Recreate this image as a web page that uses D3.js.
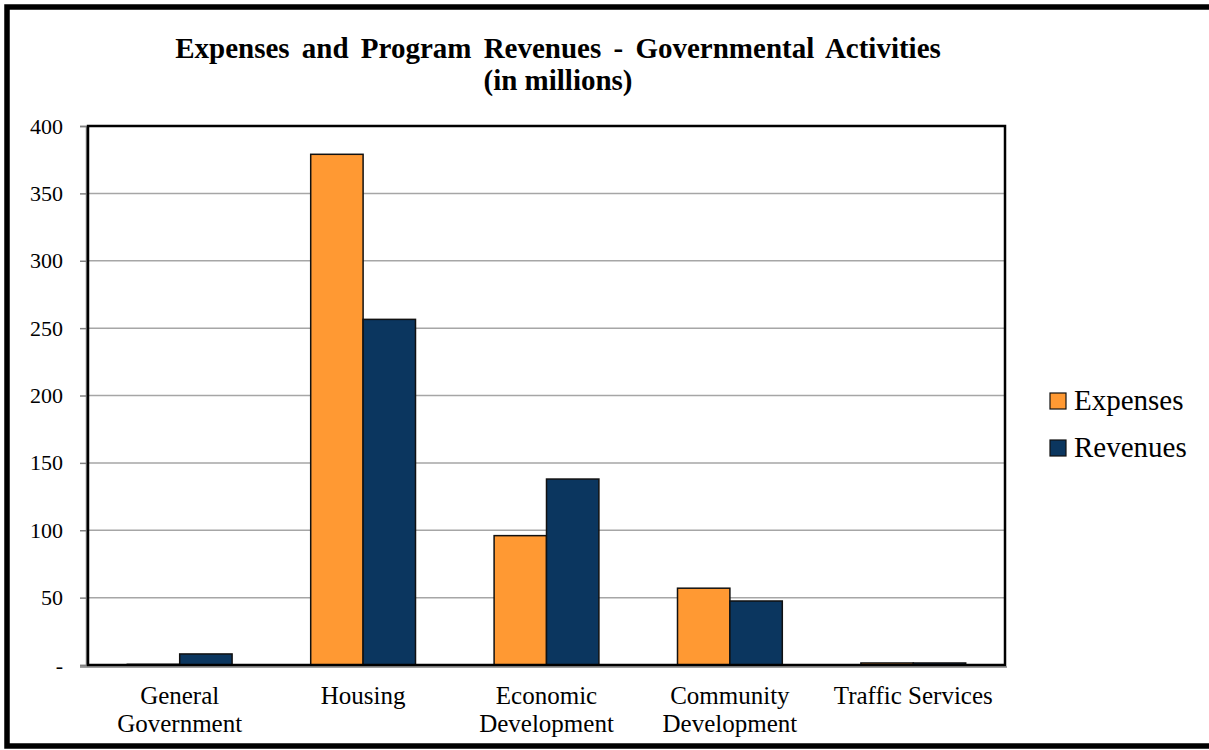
<!DOCTYPE html>
<html>
<head>
<meta charset="utf-8">
<script src="https://cdn.jsdelivr.net/npm/d3@7"></script>
<style>
  body { margin: 0; background: #fff; }
  svg text { font-family: "Liberation Serif", "Times New Roman", serif !important; }
</style>
</head>
<body>
<svg width="1209" height="750"></svg>
<script>
var categories = ["General Government", "Housing", "Economic Development", "Community Development", "Traffic Services"];
var categoryLines = [["General", "Government"], ["Housing"], ["Economic", "Development"], ["Community", "Development"], ["Traffic Services"]];
var series = ["Expenses", "Revenues"];
var expenses = [0.5, 379, 96, 57, 1.5];
var revenues = [8.2, 256.5, 138, 47.5, 1.5];
var yTicks = [0, 50, 100, 150, 200, 250, 300, 350, 400];
var colors = ["#FF9933", "#0B365F"];

var svg = d3.select("svg"),
    margin = {top: 126, left: 88},
    width = 1005 - 88,
    height = 665 - 126;

// outer chart border (runs off the right edge like the original)
svg.append("rect")
    .attr("x", 7).attr("y", 7)
    .attr("width", 1220).attr("height", 739)
    .attr("fill", "none")
    .attr("stroke", "#000")
    .attr("stroke-width", 5.5);

svg.append("text")
    .attr("x", 558).attr("y", 58)
    .attr("text-anchor", "middle")
    .attr("font-size", 29).attr("font-weight", "bold")
    .attr("word-spacing", 5)
    .text("Expenses and Program Revenues - Governmental Activities");
svg.append("text")
    .attr("x", 558).attr("y", 90)
    .attr("text-anchor", "middle")
    .attr("font-size", 29).attr("font-weight", "bold")
    .text("(in millions)");

var g = svg.append("g").attr("transform", "translate(" + margin.left + "," + margin.top + ")");

var x = d3.scaleBand().domain(categories).range([0, width])
    .paddingInner(1.5 / 3.5).paddingOuter(0.75 / 3.5);
var xs = d3.scaleBand().domain(series).range([0, x.bandwidth()]);
var y = d3.scaleLinear().domain([0, 400]).range([height, 0]);

// gridlines
g.selectAll("line.grid")
    .data(yTicks.slice(1))
    .enter().append("line")
    .attr("class", "grid")
    .attr("x1", 0).attr("x2", width)
    .attr("y1", function(d) { return y(d); })
    .attr("y2", function(d) { return y(d); })
    .attr("stroke", "#a6a6a6")
    .attr("stroke-width", 1.5);

// y axis
var yAxis = g.append("g")
    .attr("transform", "translate(-2,0)")
    .call(d3.axisLeft(y).tickValues(yTicks).tickSize(6).tickPadding(17)
      .tickFormat(function(d) { return d === 0 ? "-" : d; }));
yAxis.select(".domain").attr("stroke", "#808080").attr("stroke-width", 1.5);
yAxis.selectAll(".tick line").attr("stroke", "#808080").attr("stroke-width", 1.5);
yAxis.selectAll("text").attr("font-size", 22).attr("fill", "#000");

// x axis line
g.append("line")
    .attr("x1", -8).attr("x2", width + 2)
    .attr("y1", height + 2).attr("y2", height + 2)
    .attr("stroke", "#808080").attr("stroke-width", 1.5);

// bars
var rows = categories.map(function(c, i) { return {cat: c, vals: [expenses[i], revenues[i]]}; });
var grp = g.selectAll("g.cat")
    .data(rows)
    .enter().append("g")
    .attr("class", "cat")
    .attr("transform", function(d) { return "translate(" + x(d.cat) + ",0)"; });
grp.selectAll("rect")
    .data(function(d) { return d.vals.map(function(v, j) { return {s: series[j], v: v, j: j}; }); })
    .enter().append("rect")
    .attr("x", function(d) { return xs(d.s); })
    .attr("y", function(d) { return y(d.v); })
    .attr("width", xs.bandwidth())
    .attr("height", function(d) { return height - y(d.v); })
    .attr("fill", function(d) { return colors[d.j]; })
    .attr("stroke", "#111")
    .attr("stroke-width", 1.5);

// plot area frame
g.append("rect")
    .attr("x", 0).attr("y", 0)
    .attr("width", width).attr("height", height)
    .attr("fill", "none")
    .attr("stroke", "#000")
    .attr("stroke-width", 2.5);

// category labels
categoryLines.forEach(function(lines, i) {
  var cx = x(categories[i]) + x.bandwidth() / 2;
  var t = g.append("text")
      .attr("x", cx)
      .attr("y", height + 39)
      .attr("text-anchor", "middle")
      .attr("font-size", 25);
  lines.forEach(function(l, k) {
    t.append("tspan")
        .attr("x", cx)
        .attr("dy", k === 0 ? 0 : 28)
        .text(l);
  });
});

// legend
var leg = svg.append("g").attr("transform", "translate(1050,393)");
series.forEach(function(s, i) {
  var r = leg.append("g").attr("transform", "translate(0," + (i * 47) + ")");
  r.append("rect")
      .attr("width", 16).attr("height", 16)
      .attr("fill", colors[i])
      .attr("stroke", "#111").attr("stroke-width", 1.2);
  r.append("text")
      .attr("x", 24).attr("y", 17)
      .attr("font-size", 29)
      .text(s);
});
</script>
</body>
</html>
